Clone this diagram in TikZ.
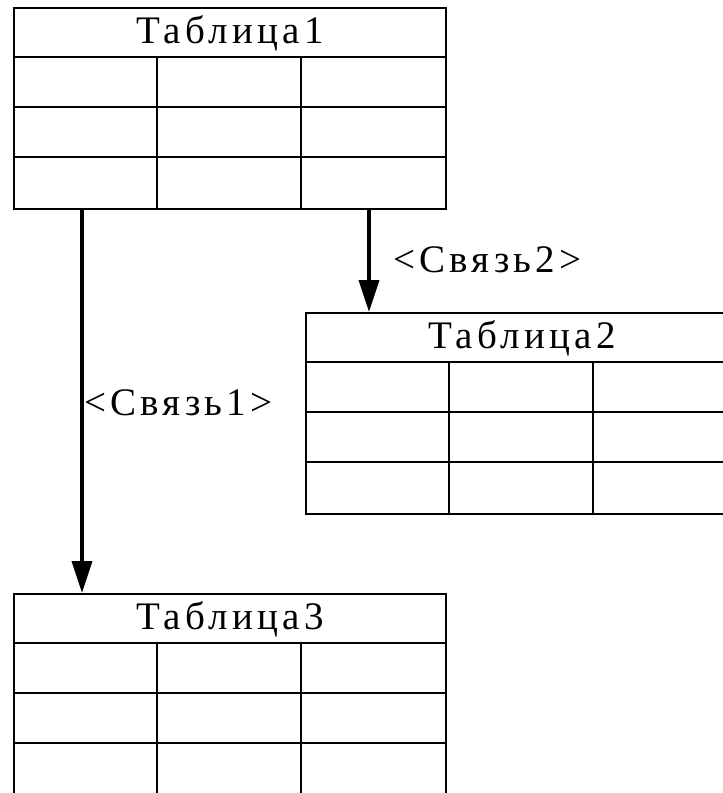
\documentclass[tikz,border=0pt]{standalone}
\usepackage{fontspec}
\newfontfamily\tblfont{Liberation Serif}[LetterSpace=11.0]
\usetikzlibrary{arrows.meta}
\tikzset{
  tbox/.style={draw, line width=2pt, minimum width=432pt, minimum height=201pt, inner sep=0pt, anchor=north west},
  grid/.style={line width=2pt},
  arr/.style={line width=3.5pt, -{Triangle[length=32pt,width=20pt]}},
  lbl/.style={inner sep=0pt, font=\tblfont\fontsize{39}{44}\selectfont},
}
\newcommand{\mytable}[4]{% name, x, y, title
  \node[tbox] (#1) at (#2,#3) {};
  \draw[grid] ([yshift=-50pt]#1.north west) -- ([yshift=-50pt]#1.north east);
  \draw[grid] ([yshift=-100pt]#1.north west) -- ([yshift=-100pt]#1.north east);
  \draw[grid] ([yshift=-150pt]#1.north west) -- ([yshift=-150pt]#1.north east);
  \draw[grid] ([xshift=144pt,yshift=-50pt]#1.north west) -- ([xshift=144pt]#1.south west);
  \draw[grid] ([xshift=288pt,yshift=-50pt]#1.north west) -- ([xshift=288pt]#1.south west);
  \node[lbl] (#1h) at ([yshift=-26pt]#1.north) {#4};
}
\begin{document}
\begin{tikzpicture}[x=1pt,y=-1pt]
\useasboundingbox (0,0) rectangle (723,793);
\clip (0,0) rectangle (723,793);
\fill[white] (0,0) rectangle (723,793);
\mytable{t1}{13}{7}{Таблица1}
\mytable{t2}{305}{312}{Таблица2}
\mytable{t3}{13}{593}{Таблица3}
\coordinate (c1) at (82,0);
\coordinate (c2) at (369,0);
\draw[arr] (t1.south -| c1) -- (t3.north -| c1);
\draw[arr] (t1.south -| c2) -- (t2.north -| c2);
\node[lbl, anchor=west] (l1) at (84,403) {<Связь1>};
\node[lbl, anchor=west] (l2) at (393,260) {<Связь2>};
\end{tikzpicture}
\end{document}
